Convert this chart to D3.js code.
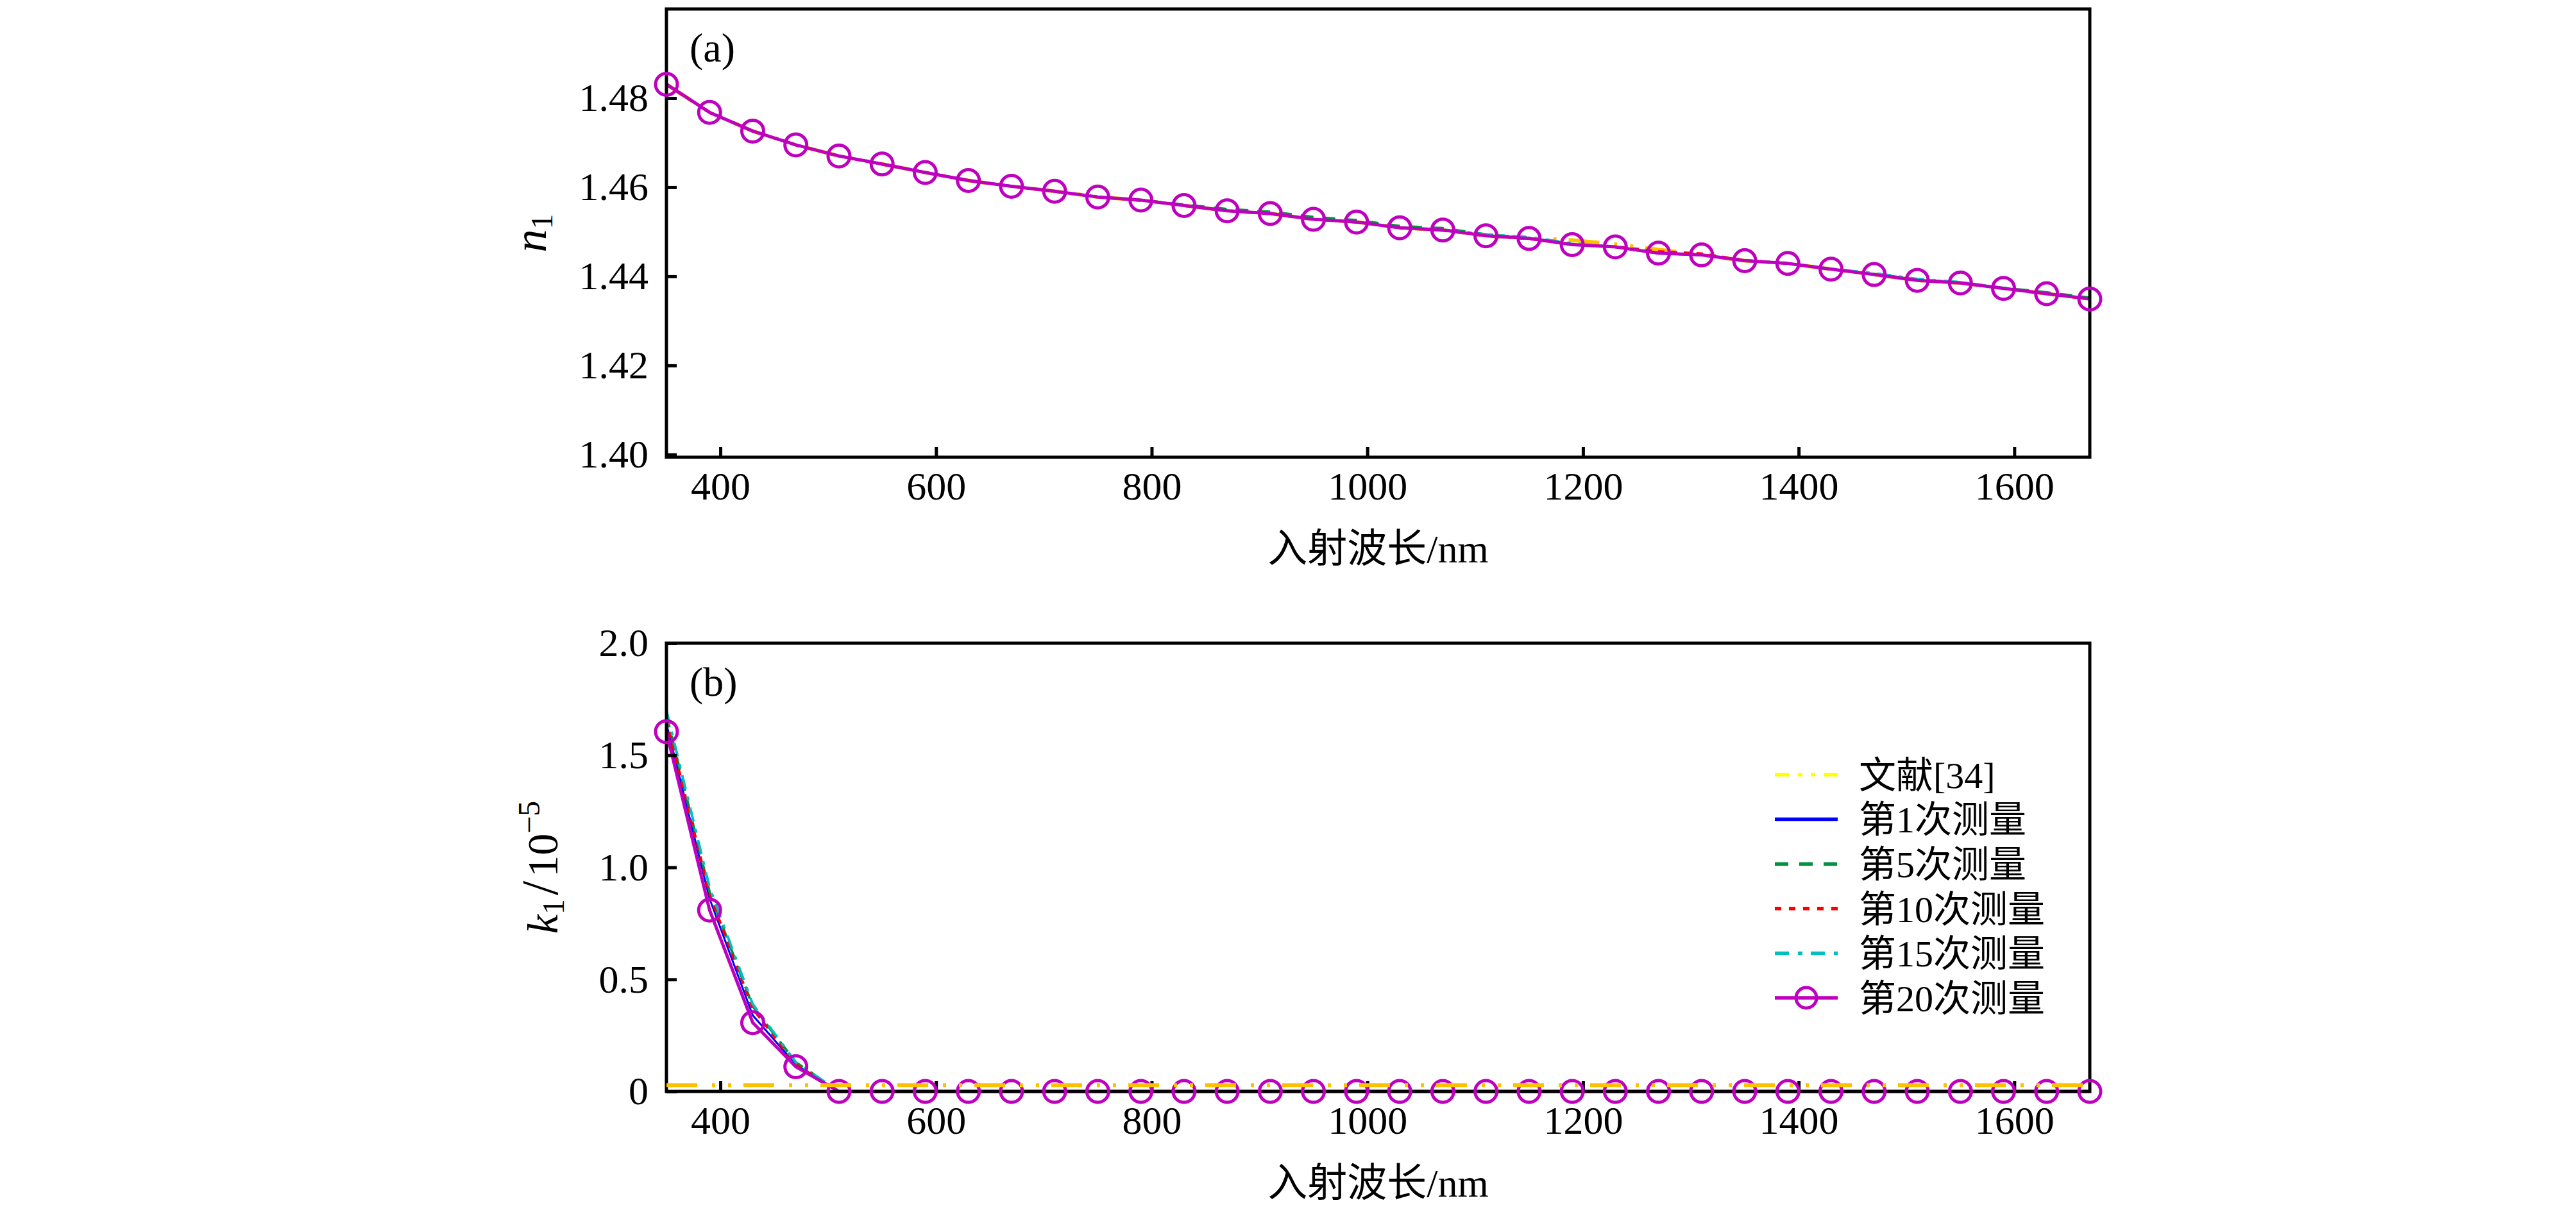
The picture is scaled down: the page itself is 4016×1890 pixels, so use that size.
<!DOCTYPE html>
<html>
<head>
<meta charset="utf-8">
<script src="https://cdn.jsdelivr.net/npm/d3@7/dist/d3.min.js"></script>
<style>
  body { margin: 0; background: #fff; }
  svg { display: block; }
</style>
</head>
<body>
<div id="wrapper"></div>
<script>
// DATA
const wavelengths = [350, 390, 430, 470, 510, 550, 590, 630, 670, 710, 750, 790, 830, 870, 910, 950, 990,
  1030, 1070, 1110, 1150, 1190, 1230, 1270, 1310, 1350, 1390, 1430, 1470, 1510, 1550, 1590, 1630, 1670];

// panel (a): refractive index n1
const nLit = [1.4831, 1.4768, 1.4726, 1.4695, 1.4670, 1.4652, 1.4633, 1.4615, 1.4602, 1.4591, 1.4578, 1.4571, 1.4559, 1.4547, 1.4541, 1.4528, 1.4522,
  1.4509, 1.4504, 1.4491, 1.4486, 1.4481, 1.4472, 1.4460, 1.4448, 1.4435, 1.4429, 1.4416, 1.4404, 1.4391, 1.4385, 1.4373, 1.4361, 1.4349];
const n1st = [1.4832, 1.4769, 1.4727, 1.4695, 1.4671, 1.4652, 1.4634, 1.4616, 1.4603, 1.4591, 1.4579, 1.4571, 1.4560, 1.4548, 1.4541, 1.4529, 1.4522,
  1.4510, 1.4504, 1.4492, 1.4485, 1.4472, 1.4466, 1.4453, 1.4448, 1.4436, 1.4429, 1.4417, 1.4404, 1.4392, 1.4385, 1.4374, 1.4361, 1.4350];
const n5th = [1.4831, 1.4768, 1.4726, 1.4695, 1.4670, 1.4652, 1.4633, 1.4615, 1.4602, 1.4591, 1.4578, 1.4571, 1.4561, 1.4551, 1.4545, 1.4533, 1.4526,
  1.4513, 1.4508, 1.4494, 1.4486, 1.4472, 1.4466, 1.4452, 1.4448, 1.4435, 1.4429, 1.4416, 1.4405, 1.4393, 1.4386, 1.4374, 1.4364, 1.4352];
const n10th = [1.4830, 1.4767, 1.4726, 1.4694, 1.4670, 1.4651, 1.4633, 1.4615, 1.4602, 1.4590, 1.4578, 1.4570, 1.4559, 1.4547, 1.4540, 1.4528, 1.4521,
  1.4509, 1.4503, 1.4491, 1.4484, 1.4472, 1.4467, 1.4456, 1.4451, 1.4436, 1.4429, 1.4416, 1.4404, 1.4391, 1.4385, 1.4373, 1.4361, 1.4349];
const n15th = [1.4831, 1.4768, 1.4726, 1.4695, 1.4670, 1.4652, 1.4633, 1.4615, 1.4602, 1.4591, 1.4578, 1.4571, 1.4559, 1.4547, 1.4541, 1.4528, 1.4522,
  1.4509, 1.4505, 1.4494, 1.4488, 1.4474, 1.4466, 1.4452, 1.4448, 1.4435, 1.4429, 1.4417, 1.4407, 1.4394, 1.4387, 1.4373, 1.4361, 1.4349];
const n20th = [1.4831, 1.4768, 1.4726, 1.4695, 1.4670, 1.4652, 1.4633, 1.4615, 1.4602, 1.4591, 1.4578, 1.4571, 1.4559, 1.4547, 1.4541, 1.4528, 1.4522,
  1.4509, 1.4504, 1.4491, 1.4485, 1.4471, 1.4466, 1.4452, 1.4448, 1.4435, 1.4429, 1.4416, 1.4404, 1.4391, 1.4385, 1.4373, 1.4361, 1.4349];

// panel (b): extinction coefficient k1 (x 1e-5)
const kLit = [0.028, 0.028, 0.028, 0.028, 0.028, 0.028, 0.028, 0.028, 0.028, 0.028, 0.028, 0.028, 0.028, 0.028, 0.028, 0.028, 0.028,
  0.028, 0.028, 0.028, 0.028, 0.028, 0.028, 0.028, 0.028, 0.028, 0.028, 0.028, 0.028, 0.028, 0.028, 0.028, 0.028, 0.028];
const k1st = [1.64, 0.86, 0.34, 0.12, 0, 0, 0, 0, 0, 0, 0, 0, 0, 0, 0, 0, 0,
  0, 0, 0, 0, 0, 0, 0, 0, 0, 0, 0, 0, 0, 0, 0, 0, 0];
const k5th = [1.68, 0.89, 0.38, 0.13, 0, 0, 0, 0, 0, 0, 0, 0, 0, 0, 0, 0, 0,
  0, 0, 0, 0, 0, 0, 0, 0, 0, 0, 0, 0, 0, 0, 0, 0, 0];
const k10th = [1.66, 0.88, 0.37, 0.12, 0, 0, 0, 0, 0, 0, 0, 0, 0, 0, 0, 0, 0,
  0, 0, 0, 0, 0, 0, 0, 0, 0, 0, 0, 0, 0, 0, 0, 0, 0];
const k15th = [1.70, 0.91, 0.39, 0.13, 0, 0, 0, 0, 0, 0, 0, 0, 0, 0, 0, 0, 0,
  0, 0, 0, 0, 0, 0, 0, 0, 0, 0, 0, 0, 0, 0, 0, 0, 0];
const k20th = [1.605, 0.809, 0.307, 0.110, 0, 0, 0, 0, 0, 0, 0, 0, 0, 0, 0, 0, 0,
  0, 0, 0, 0, 0, 0, 0, 0, 0, 0, 0, 0, 0, 0, 0, 0, 0];

const seriesNames = ["文献[34]", "第1次测量", "第5次测量", "第10次测量", "第15次测量", "第20次测量"];
const xTicks = [400, 600, 800, 1000, 1200, 1400, 1600];
const nTicks = [1.40, 1.42, 1.44, 1.46, 1.48];
const kTicks = [0, 0.5, 1.0, 1.5, 2.0];
const kTickLabels = ["0", "0.5", "1.0", "1.5", "2.0"];

// STYLES
const serif = "'Liberation Serif', 'Noto Sans CJK SC', serif";
const styles = [
  { color: "#ffc000", legendColor: "#ffff00", width: 6, dash: "48,23,5,20,5,19", legendDash: "22,14,7,13,7,13" },
  { color: "#0000ff", legendColor: "#0000ff", width: 3, dash: null, legendDash: null },
  { color: "#00923f", legendColor: "#00923f", width: 4, dash: "20,14", legendDash: "21,17" },
  { color: "#ff0000", legendColor: "#ff0000", width: 4, dash: "10,10", legendDash: "10,12" },
  { color: "#00bfbf", legendColor: "#00bfbf", width: 4, dash: "22,12,6,12", legendDash: "22,14,7,13" },
  { color: "#bf00bf", legendColor: "#bf00bf", width: 5, dash: null, legendDash: null }
];

// DIMENSIONS
const dimensions = { width: 4016, height: 1890, left: 1039, right: 3258 };
const panels = [
  { top: 14, bottom: 713, domain: [1.3994, 1.50], ticks: nTicks, fmt: d3.format(".2f"),
    series: [nLit, n1st, n5th, n10th, n15th, n20th], tag: "(a)", litOnTop: false },
  { top: 1003, bottom: 1702, domain: [0, 2.0], ticks: kTicks, fmt: (d, i) => kTickLabels[i],
    series: [kLit, k1st, k5th, k10th, k15th, k20th], tag: "(b)", litOnTop: true }
];

const svg = d3.select("#wrapper")
  .append("svg")
  .attr("width", dimensions.width)
  .attr("height", dimensions.height);

const xScale = d3.scaleLinear()
  .domain([350, 1670])
  .range([dimensions.left, dimensions.right]);

panels.forEach(p => {
  const yScale = d3.scaleLinear().domain(p.domain).range([p.bottom, p.top]);
  const g = svg.append("g");

  const line = vals => d3.line()
    .x((d, i) => xScale(wavelengths[i]))
    .y(d => yScale(d))(vals);

  const drawSeries = si => {
    g.append("path")
      .attr("d", line(p.series[si]))
      .attr("fill", "none")
      .attr("stroke", styles[si].color)
      .attr("stroke-width", styles[si].width)
      .attr("stroke-dasharray", styles[si].dash);
  };

  // in (a) the literature curve hides under the measurements, in (b) it sits on top
  if (!p.litOnTop) drawSeries(0);
  [1, 2, 3, 4, 5].forEach(drawSeries);

  // frame
  g.append("rect")
    .attr("x", dimensions.left)
    .attr("y", p.top)
    .attr("width", dimensions.right - dimensions.left)
    .attr("height", p.bottom - p.top)
    .attr("fill", "none")
    .attr("stroke", "#000")
    .attr("stroke-width", 5);

  // axes
  const xAxis = g.append("g")
    .attr("transform", `translate(0,${p.bottom})`)
    .call(d3.axisBottom(xScale).tickValues(xTicks).tickFormat(d3.format("d"))
      .tickSizeInner(-16).tickSizeOuter(0).tickPadding(22));
  const yAxis = g.append("g")
    .attr("transform", `translate(${dimensions.left},0)`)
    .call(d3.axisLeft(yScale).tickValues(p.ticks).tickFormat(p.fmt)
      .tickSizeInner(-16).tickSizeOuter(0).tickPadding(28));
  [xAxis, yAxis].forEach(a => {
    a.select(".domain").remove();
    a.selectAll("line").attr("stroke-width", 5);
    a.selectAll("text")
      .attr("font-family", serif)
      .attr("font-size", 62)
      .attr("fill", "#000");
  });

  // circles of the 20th measurement
  g.selectAll(".marker")
    .data(p.series[5])
    .enter().append("circle")
    .attr("class", "marker")
    .attr("cx", (d, i) => xScale(wavelengths[i]))
    .attr("cy", d => yScale(d))
    .attr("r", 17)
    .attr("fill", "none")
    .attr("stroke", styles[5].color)
    .attr("stroke-width", 5);

  if (p.litOnTop) drawSeries(0);

  // panel tag
  g.append("text")
    .attr("x", 1075)
    .attr("y", p.top + 82)
    .attr("font-family", serif)
    .attr("font-size", 64)
    .text(p.tag);

  // x label
  g.append("text")
    .attr("x", (dimensions.left + dimensions.right) / 2)
    .attr("y", p.bottom + 164)
    .attr("text-anchor", "middle")
    .attr("font-family", serif)
    .attr("font-size", 62)
    .text("入射波长/nm");
});

// y labels
const nLabel = svg.append("text")
  .attr("transform", `translate(851,${(panels[0].top + panels[0].bottom) / 2}) rotate(-90)`)
  .attr("text-anchor", "middle")
  .attr("font-family", serif)
  .attr("font-size", 72);
nLabel.append("tspan").attr("font-style", "italic").text("n");
nLabel.append("tspan").attr("font-size", 48).attr("dy", 10).text("1");

const kLabel = svg.append("text")
  .attr("transform", `translate(869,${(panels[1].top + panels[1].bottom) / 2}) rotate(-90)`)
  .attr("text-anchor", "middle")
  .attr("font-family", serif)
  .attr("font-size", 68);
kLabel.append("tspan").attr("font-style", "italic").text("k");
kLabel.append("tspan").attr("font-size", 48).attr("dy", 10).text("1");
kLabel.append("tspan").attr("dy", -10).attr("font-size", 80).attr("dx", 6).text("/");
kLabel.append("tspan").attr("dx", 6).text("10");
kLabel.append("tspan").attr("font-size", 48).attr("dy", -28).text("−5");

// legend
const legend = svg.append("g");
const legendY = d3.scalePoint()
  .domain(seriesNames)
  .range([1208, 1556]);

seriesNames.forEach((name, i) => {
  const y = legendY(name);
  legend.append("line")
    .attr("x1", 2767).attr("x2", 2865)
    .attr("y1", y).attr("y2", y)
    .attr("stroke", styles[i].legendColor)
    .attr("stroke-width", 5.5)
    .attr("stroke-dasharray", styles[i].legendDash);
  if (i === 5) {
    legend.append("circle")
      .attr("cx", 2816).attr("cy", y).attr("r", 16)
      .attr("fill", "none")
      .attr("stroke", styles[i].legendColor)
      .attr("stroke-width", 5);
  }
  legend.append("text")
    .attr("x", 2898)
    .attr("y", y)
    .attr("dy", "0.36em")
    .attr("font-family", serif)
    .attr("font-size", 58)
    .text(name);
});
</script>
</body>
</html>
